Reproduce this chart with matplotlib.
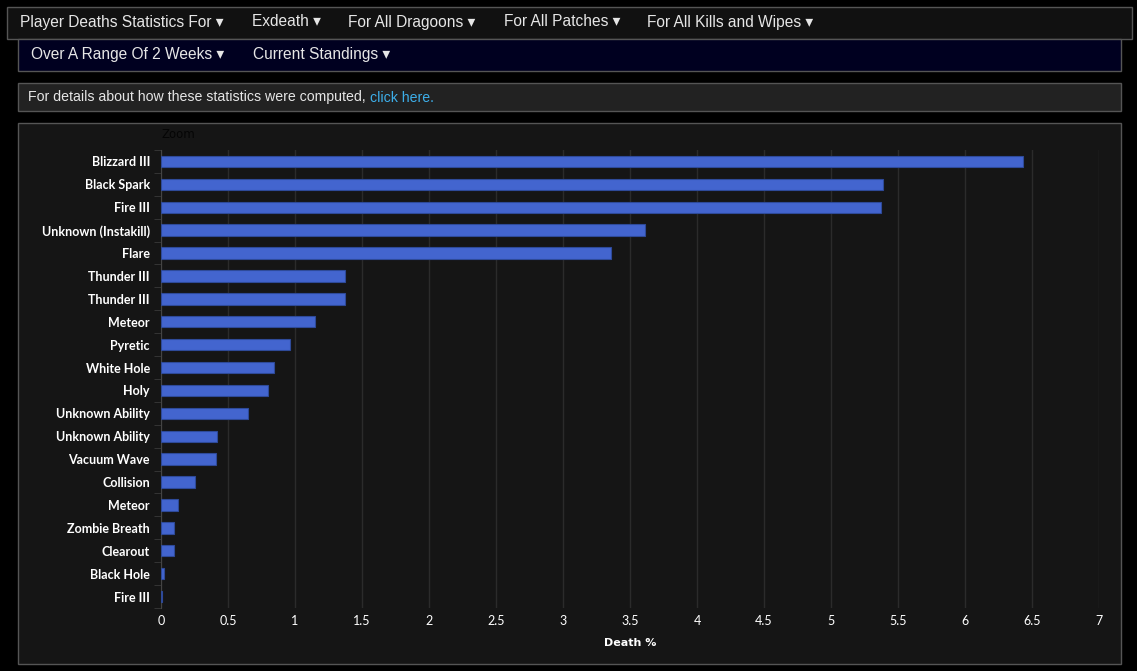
import matplotlib
matplotlib.use("Agg")
import matplotlib.pyplot as plt
from matplotlib.patches import Rectangle
import numpy as np

# death sources and their share of deaths (%)
abilities = [
    "Blizzard III", "Black Spark", "Fire III", "Unknown (Instakill)", "Flare",
    "Thunder III", "Thunder III", "Meteor", "Pyretic", "White Hole", "Holy",
    "Unknown Ability", "Unknown Ability", "Vacuum Wave", "Collision", "Meteor",
    "Zombie Breath", "Clearout", "Black Hole", "Fire III",
]
death_pct = [
    6.43, 5.39, 5.37, 3.61, 3.36,
    1.37, 1.37, 1.15, 0.96, 0.84, 0.80,
    0.65, 0.42, 0.41, 0.25, 0.13,
    0.10, 0.10, 0.02, 0.01,
]
x_ticks = [0, 0.5, 1, 1.5, 2, 2.5, 3, 3.5, 4, 4.5, 5, 5.5, 6, 6.5, 7]

nav_row1 = [("Player Deaths Statistics For", 20), ("Exdeath", 252),
            ("For All Dragoons", 348), ("For All Patches", 504),
            ("For All Kills and Wipes", 647)]
nav_row2 = [("Over A Range Of 2 Weeks", 31), ("Current Standings", 253)]

W, H = 1137, 671
fig = plt.figure(figsize=(W / 100, H / 100), dpi=100, facecolor="black")

# page background layer in pixel coords
bg = fig.add_axes([0, 0, 1, 1])
bg.set_xlim(0, W)
bg.set_ylim(H, 0)
bg.axis("off")

def box(x0, y0, x1, y1, fc, ec="#555555"):
    bg.add_patch(Rectangle((x0, y0), x1 - x0, y1 - y0, facecolor=fc,
                           edgecolor=ec, linewidth=1))

box(6.5, 6.5, 1131.5, 38.5, "#111111")
box(17.5, 38.5, 1120.5, 70.5, "#000020")
box(17.5, 82.5, 1120.5, 110.5, "#222222")
box(17.5, 122.5, 1120.5, 663.5, "#151515")

navfont = dict(family=["Liberation Sans", "DejaVu Sans"], size=11.2, color="#e6e6e6",
               va="baseline", ha="left")
for label, x in nav_row1:
    bg.text(x, 26.5, label + " \u25BE", **navfont)
for label, x in nav_row2:
    bg.text(x, 58.5, label + " \u25BE", **navfont)

t = bg.text(28, 101.5, "For details about how these statistics were computed, ",
            **dict(navfont, size=10.2))
fig.canvas.draw()
bb = t.get_window_extent()
bg.text(bb.x1, 101.5, "click here.", **dict(navfont, size=10.2, color="#3daee9"))

bg.text(161, 134, "Zoom", family="DejaVu Sans", size=8.5, color="#050505",
        va="center", ha="left")

# chart
left, right, top, bottom = 161, 1099, 150, 608
ax = fig.add_axes([left / W, 1 - bottom / H, (right - left) / W, (bottom - top) / H])
ax.set_facecolor("#151515")

y = np.arange(len(abilities))
ax.barh(y, death_pct, height=0.5, color="#4365cf", edgecolor="#2e4a99",
        linewidth=0.8, zorder=3)
ax.set_ylim(len(abilities) - 0.5, -0.5)
ax.set_xlim(0, 7)
ax.set_xticks(x_ticks)
ax.set_xticklabels([f"{v:g}" for v in x_ticks])
ax.set_yticks(y)
ax.set_yticklabels(abilities)
ax.set_yticks(np.arange(len(abilities) + 1) - 0.5, minor=True)

ax.grid(axis="x", color="#2b2b2b", linewidth=1, zorder=0)
for s in ["top", "right", "bottom"]:
    ax.spines[s].set_visible(False)
ax.spines["left"].set_color("#444444")

ax.tick_params(axis="y", which="major", length=0, pad=8, colors="white",
               labelsize=9)
ax.tick_params(axis="y", which="minor", length=5, color="#3a3a3a")
ax.tick_params(axis="x", length=0, pad=5, colors="white", labelsize=9)
for lbl in ax.get_yticklabels():
    lbl.set_fontweight("bold")
    lbl.set_family("Lato")
for lbl in ax.get_xticklabels():
    lbl.set_family("Lato")

ax.set_xlabel("Death %", color="white", fontsize=8, fontweight="bold", labelpad=8)

fig.savefig("out.png", dpi=100, facecolor="black")
